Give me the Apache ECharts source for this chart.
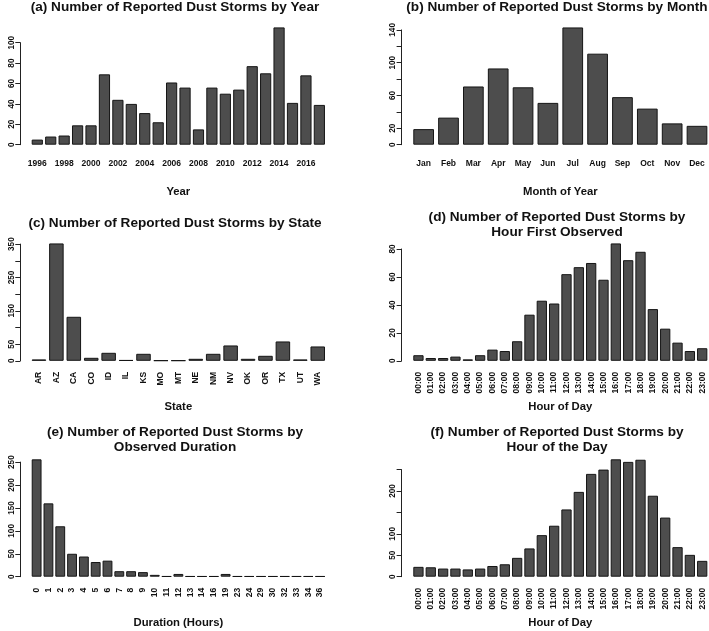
<!DOCTYPE html>
<html><head><meta charset="utf-8">
<script src="https://cdn.jsdelivr.net/npm/echarts@6/dist/echarts.min.js"></script>
<style>html,body{margin:0;padding:0;background:#fff}#c{width:709px;height:631px}</style>
</head><body><div id="c"></div>
<script>
// ---- data ----
const years = ['1996','1997','1998','1999','2000','2001','2002','2003','2004','2005','2006','2007','2008','2009','2010','2011','2012','2013','2014','2015','2016','2017'];
const yearCounts = [5,8,9,19,19,69,44,40,31,22,61,56,15,56,50,54,77,70,115,41,68,39];
const months = ['Jan','Feb','Mar','Apr','May','Jun','Jul','Aug','Sep','Oct','Nov','Dec'];
const monthCounts = [19,33,71,93,70,51,143,111,58,44,26,23];
const states = ['AR','AZ','CA','CO','ID','IL','KS','MO','MT','NE','NM','NV','OK','OR','TX','UT','WA'];
const stateCounts = [4,352,132,9,24,2,21,1,1,6,21,46,6,15,58,4,43];
const hours = ['00:00','01:00','02:00','03:00','04:00','05:00','06:00','07:00','08:00','09:00','10:00','11:00','12:00','13:00','14:00','15:00','16:00','17:00','18:00','19:00','20:00','21:00','22:00','23:00'];
const firstObservedCounts = [4,2,2,3,1,4,8,7,14,33,43,41,62,67,70,58,84,72,78,37,23,13,7,9];
const durations = ['0','1','2','3','4','5','6','7','8','9','10','11','12','13','14','16','19','23','24','29','30','32','33','34','36'];
const durationCounts = [256,160,110,50,44,32,35,12,12,10,4,1,6,1,1,1,6,1,1,1,1,1,1,1,1];
const hourOfDayCounts = [23,22,19,19,17,19,25,29,44,66,97,119,157,198,240,250,274,268,273,189,138,69,51,37];

const yLabelsA = [0,20,40,60,80,100];
const yLabelsB = [0,20,60,100,140];
const yLabelsC = [0,50,150,250,350];
const yLabelsD = [0,20,40,60,80];
const yLabelsE = [0,50,100,150,200,250];
const yLabelsF = [0,50,100,200];

// ---- layout ----
const FONT = "'Liberation Sans', Arial, Helvetica, sans-serif";
const panels = [
  {cats:years, vals:yearCounts, yl:yLabelsA, max:100, step:20, title:['(a) Number of Reported Dust Storms by Year'], tx:175, ty:[6.8],
   xName:'Year', left:30.58, width:295.5, top:42.7, y0:144.7, bw:11.2, axisX:20.3, rot:0, li:1},
  {cats:months, vals:monthCounts, yl:yLabelsB, max:140, step:20, title:['(b) Number of Reported Dust Storms by Month'], tx:557, ty:[6.8],
   xName:'Month of Year', left:411.23, width:298.2, top:29.9, y0:144.7, bw:20.7, axisX:401.6, rot:0, li:0},
  {cats:states, vals:stateCounts, yl:yLabelsC, max:350, step:50, title:['(c) Number of Reported Dust Storms by State'], tx:175, ty:[223.6],
   xName:'State', left:30.25, width:296.2, top:244.1, y0:360.8, bw:14.52, axisX:20.3, rot:90, li:0},
  {cats:hours, vals:firstObservedCounts, yl:yLabelsD, max:80, step:20, title:['(d) Number of Reported Dust Storms by','Hour First Observed'], tx:557, ty:[217,232],
   xName:'Hour of Day', left:412.27, width:296.1, top:249.0, y0:360.8, bw:10.28, axisX:401.6, rot:90, li:0},
  {cats:durations, vals:durationCounts, yl:yLabelsE, max:250, step:50, title:['(e) Number of Reported Dust Storms by','Observed Duration'], tx:175, ty:[432,447],
   xName:'Duration (Hours)', left:30.72, width:295.3, top:462.1, y0:576.7, bw:9.84, axisX:20.3, rot:90, li:0},
  {cats:hours, vals:hourOfDayCounts, yl:yLabelsF, max:250, step:50, title:['(f) Number of Reported Dust Storms by','Hour of the Day'], tx:557, ty:[432,447],
   xName:'Hour of Day', left:412.27, width:296.1, top:469.6, y0:576.7, bw:10.28, axisX:401.6, rot:90, li:0}
];

const ink = '#111';
const grid = [], xAxis = [], yAxis = [], series = [], graphic = [];
panels.forEach((p, i) => {
  grid.push({left:p.left, top:p.top, width:p.width, height:p.y0 - p.top, containLabel:false, outerBoundsMode:'none'});
  xAxis.push({type:'category', gridIndex:i, data:p.cats, boundaryGap:true,
    axisLine:{show:false}, axisTick:{show:false}, splitLine:{show:false},
    axisLabel:{interval:p.li, rotate:p.rot, margin:p.rot ? 11 : 14, fontSize:8.5, fontWeight:'bold', color:ink, fontFamily:FONT},
    name:p.xName, nameLocation:'middle', nameGap:p.rot ? 40.5 : 41.5,
    nameTextStyle:{fontSize:11.3, fontWeight:'bold', color:ink, fontFamily:FONT}});
  yAxis.push({type:'value', gridIndex:i, min:0, max:p.max, interval:p.step, offset:p.left - p.axisX,
    splitLine:{show:false},
    axisLine:{show:true, onZero:false, lineStyle:{color:'#222', width:1}},
    axisTick:{show:true, length:5, lineStyle:{color:'#222', width:1}},
    axisLabel:{rotate:90, margin:4.5, fontSize:8.2, fontWeight:'bold', color:ink, fontFamily:FONT,
      formatter:(v) => p.yl.indexOf(v) >= 0 ? String(v) : ''}});
  series.push({type:'bar', xAxisIndex:i, yAxisIndex:i, data:p.vals, barWidth:p.bw, clip:false, silent:true,
    itemStyle:{color:'#4d4d4d', borderColor:'#151515', borderWidth:1}});
  p.title.forEach((t, k) => {
    graphic.push({type:'text', x:p.tx, y:p.ty[k],
      style:{text:t, font:"bold 13.6px " + FONT, fill:ink, textAlign:'center', textVerticalAlign:'middle'}});
  });
});

const chart = echarts.init(document.getElementById('c'), null, {renderer:'canvas'});
chart.setOption({animation:false, backgroundColor:'#fff', grid, xAxis, yAxis, series, graphic});
</script></body></html>
